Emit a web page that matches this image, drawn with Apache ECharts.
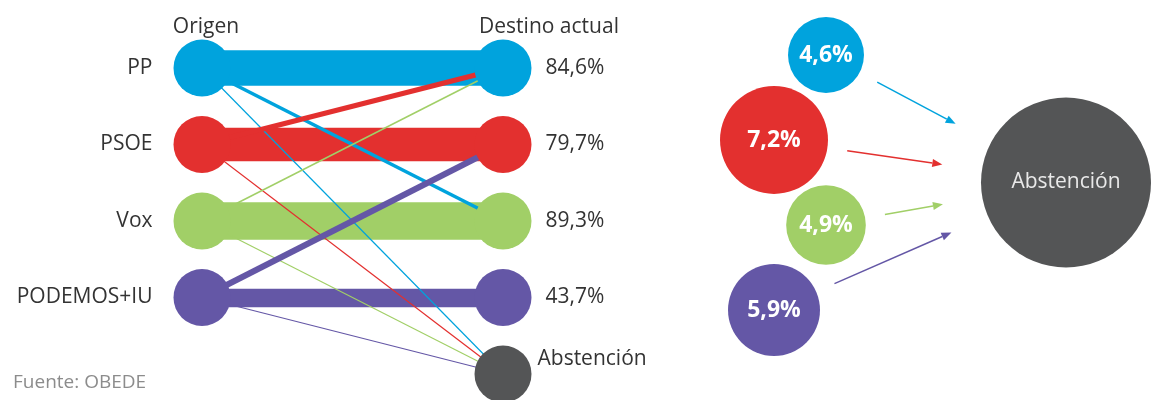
<!DOCTYPE html>
<html>
<head>
<meta charset="utf-8">
<script src="https://cdn.jsdelivr.net/npm/echarts@6/dist/echarts.min.js"></script>
<style>
  html, body { margin: 0; padding: 0; background: #fff; }
  #box { width: 1165px; height: 400px; }
</style>
</head>
<body>
<div id="box"></div>
<script>
// datos
const parties = ['PP', 'PSOE', 'Vox', 'PODEMOS+IU'];
const columns = ['Origen', 'Destino actual'];
const retention = [84.6, 79.7, 89.3, 43.7];
const toAbstention = [4.6, 7.2, 4.9, 5.9];
const transferFrom = ['PP', 'PSOE', 'Vox', 'PODEMOS+IU'];
const transferTo = ['Vox', 'PP', 'PP', 'PSOE'];
const transferValue = [8.6, 11.7, 3.6, 14.3];
const abstLabel = 'Abstención';
const source = 'Fuente: OBEDE';

const colors = ['#00a3dd', '#e3302f', '#a1cf67', '#6457a6'];
const grey = '#545556';
const txt = '#333';
const ff = '"Open Sans", sans-serif';
const abstRow = parties.length;

const pct = v => v.toFixed(1).replace('.', ',') + '%';
const widthOf = v => v * 0.42;
const bubbleR = v => 9.7 + 6.15 * v;

const chart = echarts.init(document.getElementById('box'));

const bars = retention.map((v, i) => ({
    coords: [[0, i], [1, i]],
    lineStyle: { color: colors[i], width: widthOf(v) }
}));

const thin = toAbstention.map((v, i) => ({
    coords: [[0, i], [1, abstRow]],
    lineStyle: { color: colors[i], width: 1.2 }
})).concat(transferFrom.map((p, k) => {
    const i = parties.indexOf(p);
    return {
        coords: [[0, i], [1, parties.indexOf(transferTo[k])]],
        lineStyle: { color: colors[i], width: widthOf(transferValue[k]) }
    };
}));

const nodes = [];
parties.forEach((p, i) => {
    nodes.push({ value: [0, i], itemStyle: { color: colors[i] },
        label: { position: 'left', distance: 21, formatter: p } });
    nodes.push({ value: [1, i], itemStyle: { color: colors[i] },
        label: { position: 'right', distance: 14, formatter: pct(retention[i]) } });
});
nodes.push({ value: [1, abstRow], itemStyle: { color: grey },
    label: { position: 'right', distance: 6, offset: [0, -15], formatter: abstLabel } });

chart.setOption({
    animation: false,
    textStyle: { fontFamily: ff },
    grid: [
        { left: 202, top: 68, width: 301, height: 306 },
        { left: 800, top: 55, width: 266, height: 255 }
    ],
    xAxis: [
        {
            gridIndex: 0, type: 'value', min: 0, max: 1, interval: 1, position: 'top',
            axisLine: { show: false }, axisTick: { show: false }, splitLine: { show: false },
            axisLabel: {
                margin: 30, showMinLabel: true, showMaxLabel: true,
                formatter: v => (v === 0 ? '{o|' : '{d|') + columns[v] + '}',
                rich: {
                    o: { fontSize: 21, color: txt, fontFamily: ff, padding: [0, 0, 0, 8] },
                    d: { fontSize: 21, color: txt, fontFamily: ff, padding: [0, 0, 0, 92] }
                }
            }
        },
        { gridIndex: 1, type: 'value', min: 0, max: 1, show: false }
    ],
    yAxis: [
        { gridIndex: 0, type: 'value', inverse: true, min: 0, max: abstRow, show: false },
        { gridIndex: 1, type: 'value', inverse: true, min: 0, max: parties.length - 1, show: false }
    ],
    graphic: [{
        type: 'text', left: 13, top: 373,
        style: { text: source, fill: '#8c8c8c', font: '19px ' + ff }
    }],
    series: [
        {
            type: 'lines', coordinateSystem: 'cartesian2d', xAxisIndex: 0, yAxisIndex: 0,
            clip: false, silent: true, z: 1,
            lineStyle: { opacity: 1, curveness: 0 },
            data: bars
        },
        {
            type: 'lines', coordinateSystem: 'cartesian2d', xAxisIndex: 0, yAxisIndex: 0,
            clip: false, silent: true, z: 2,
            lineStyle: { opacity: 1, curveness: 0 },
            data: thin
        },
        {
            type: 'scatter', xAxisIndex: 0, yAxisIndex: 0, clip: false, silent: true, z: 3,
            symbolSize: 57,
            itemStyle: { opacity: 1 },
            label: { show: true, fontSize: 21, color: txt, fontFamily: ff },
            data: nodes
        },
        {
            type: 'scatter', xAxisIndex: 1, yAxisIndex: 1, clip: false, silent: true, z: 3,
            symbolSize: 170,
            itemStyle: { color: grey, opacity: 1 },
            label: { show: true, position: 'inside', formatter: abstLabel,
                fontSize: 21, color: '#e9e9e9', fontFamily: ff },
            data: [[1, (parties.length - 1) / 2]]
        },
        {
            type: 'custom', xAxisIndex: 1, yAxisIndex: 1, clip: false, silent: true, z: 3,
            data: toAbstention.map((v, i) => [0, i, v]),
            renderItem(params, api) {
                const i = params.dataIndex;
                const v = api.value(2);
                const base = api.coord([0, i]);
                const cx = base[0] + (i % 2 === 0 ? 26 : -26);
                const cy = base[1];
                const r = bubbleR(v);
                const t = api.coord([1, (parties.length - 1) / 2]);
                const dx = t[0] - cx, dy = t[1] - cy;
                const d = Math.hypot(dx, dy);
                const ux = dx / d, uy = dy / d;
                const sx = cx + ux * (r + 20), sy = cy + uy * (r + 20);
                const ex = t[0] - ux * 125, ey = t[1] - uy * 125;
                const bx = ex - ux * 10, by = ey - uy * 10;
                return {
                    type: 'group',
                    children: [
                        { type: 'circle', shape: { cx: cx, cy: cy, r: r }, style: { fill: colors[i] } },
                        { type: 'text', x: cx, y: cy, style: {
                            text: pct(v), fill: '#fff', font: 'bold 23px ' + ff,
                            align: 'center', verticalAlign: 'middle' } },
                        { type: 'line', shape: { x1: sx, y1: sy, x2: bx, y2: by },
                            style: { stroke: colors[i], lineWidth: 1.5 } },
                        { type: 'polygon', shape: { points: [[ex, ey],
                            [bx - uy * 4, by + ux * 4], [bx + uy * 4, by - ux * 4]] },
                            style: { fill: colors[i] } }
                    ]
                };
            }
        }
    ]
});
</script>
</body>
</html>
